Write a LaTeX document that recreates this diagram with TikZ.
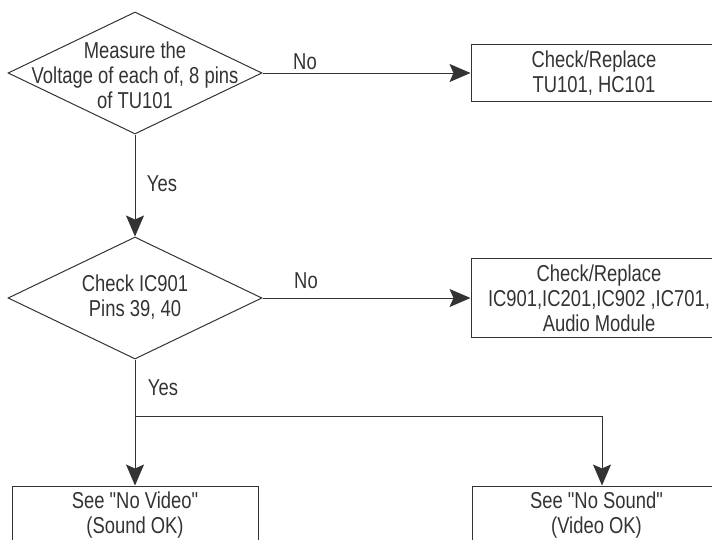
\documentclass[tikz,border=0pt]{standalone}
\usepackage{fontspec}
\setmainfont[FakeStretch=0.8, Ligatures=TeXOff]{Liberation Sans}
\usetikzlibrary{shapes.geometric, arrows.meta, positioning}
\definecolor{inkgray}{HTML}{333333}
\newcommand{\chartfont}{\fontsize{17.25pt}{18.75pt}\selectfont}
\tikzset{
  decision/.style={diamond, draw=inkgray, line width=0.75pt, inner sep=0pt,
    minimum width=190.5pt, minimum height=91.5pt},
  action/.style={rectangle, draw=inkgray, line width=0.75pt, inner sep=0pt, align=center},
  flow/.style={draw=inkgray, line width=0.75pt,
    -{Stealth[length=15.75pt, width=13.5pt, inset=3pt]}},
  wire/.style={draw=inkgray, line width=0.75pt},
  every node/.append style={font=\chartfont, text=inkgray}
}

\begin{document}
\begin{tikzpicture}[x=0.75pt, y=-0.75pt]
    \useasboundingbox (0,0) rectangle (712,539);
    % define nodes
    % decisions
    \node[decision] (measure_diamond) at (135,73) {};
    \node[decision, below=76.5pt of measure_diamond] (check_diamond) {};
    \node[align=center] (measure_text) at ([yshift=-2pt]measure_diamond.center)
        {Measure the\\Voltage of each of, 8 pins\\of TU101};
    \node[align=center] (check_text) at ([yshift=1pt]check_diamond.center)
        {Check IC901\\Pins 39, 40};
    % actions
    \node[action, minimum width=184.5pt, minimum height=42.75pt,
        right=156pt of measure_diamond] (replace_tu) {Check/Replace\\TU101, HC101};
    \node[action, minimum width=192pt, minimum height=59.25pt,
        right=156pt of check_diamond] (replace_ic)
        {Check/Replace\\IC901,IC201,IC902 ,IC701,\\Audio Module};
    \node[action, minimum width=184.5pt, minimum height=43.5pt,
        below=94.5pt of check_diamond] (no_video) {See "No Video"\\(Sound OK)};
    \node[action, minimum width=186.75pt, minimum height=43.5pt,
        right=159.75pt of no_video] (no_sound) {See "No Sound"\\(Video OK)};
    % branch points
    \coordinate (split) at (135,416);
    \coordinate (split_right) at (602,416);
    % draw connectors
    \draw[flow] (measure_diamond.east) -- (measure_diamond.east -| replace_tu.west);
    \draw[flow] (measure_diamond.south) -- (check_diamond.north);
    \draw[flow] (check_diamond.east) -- (check_diamond.east -| replace_ic.west);
    \draw[wire] (check_diamond.south) -- (split) -- (split_right);
    \draw[flow] (split) -- (no_video.north);
    \draw[flow] (split_right) -- (split_right |- no_sound.north);
    % add labels
    \node (no_tu) at (305,62) {No};
    \node (no_ic) at (306,281) {No};
    \node (yes_check) at (162,184) {Yes};
    \node (yes_split) at (163,388) {Yes};
\end{tikzpicture}
\end{document}
